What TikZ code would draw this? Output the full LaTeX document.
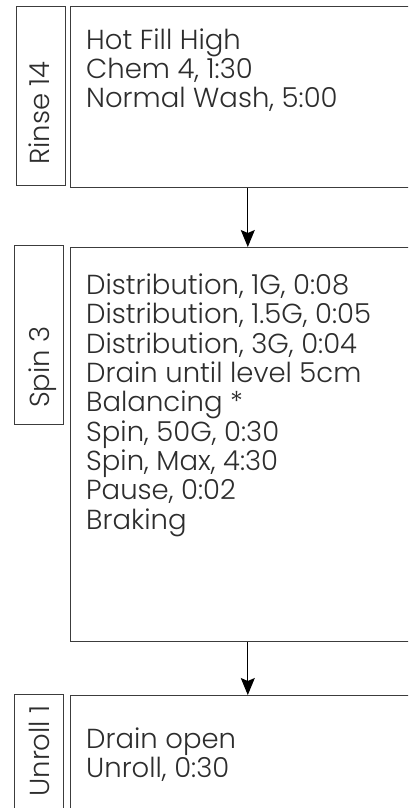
\documentclass[tikz,border=0pt]{standalone}
\usepackage{fontspec}
\setmainfont{Poppins}[UprightFont=* Light]
\usepackage{tikz}
\usetikzlibrary{arrows.meta,positioning,calc}
\definecolor{inkgray}{RGB}{45,45,45}
\definecolor{framegray}{RGB}{60,60,60}

\begin{document}
\begin{tikzpicture}[x=1pt, y=-1pt, >={Stealth[length=17pt,width=14pt,inset=3pt]}]
  \tikzset{lblbox/.style={draw=framegray, line width=1pt, minimum width=49pt, anchor=north west, inner sep=0pt},
    stepbox/.style={draw=framegray, line width=1pt, minimum width=354.6pt, anchor=north west, inner sep=0pt},
    lbltext/.style={rotate=90, inner sep=0pt, text=inkgray, font=\fontsize{27.5}{27.5}\selectfont},
    steptext/.style={anchor=base west, align=left, inner sep=0pt, text=inkgray, font=\fontsize{27.5}{29.3}\selectfont},
    flow/.style={->, draw=black, line width=1pt}}
  \clip (0,0) rectangle (408,808);
  % rinse (list placed by its last baseline)
  \node[lblbox, minimum height=179pt] (rinselbl) at (16,6) {};
  \node[lbltext, anchor=base west] (rinsename) at (49,165) {Rinse 14};
  \node[stepbox, minimum height=181pt] (rinse) at (70,6) {};
  \node[steptext] (rinselist) at (86,107.9) {Hot Fill High\\Chem 4, 1:30\\Normal Wash, 5:00};
  % spin
  \node[lblbox, minimum height=179pt] (spinlbl) at (14,245) {};
  \node[lbltext, anchor=base west] (spinname) at (49,408) {Spin 3};
  \node[stepbox, minimum height=394pt] (spin) at (70,247) {};
  \node[steptext] (spinlist) at (86,529) {Distribution, 1G, 0:08\\Distribution, 1.5G, 0:05\\Distribution, 3G, 0:04\\Drain until level 5cm\\Balancing *\\Spin, 50G, 0:30\\Spin, Max, 4:30\\Pause, 0:02\\Braking};
  % unroll
  \node[lblbox, minimum height=160pt] (unrolllbl) at (14,694) {};
  \node[lbltext, anchor=base east] (unrollname) at (49,705) {Unroll 1};
  \node[stepbox, minimum height=160pt] (unroll) at (70,695) {};
  \node[steptext] (unrolllist) at (86,777.3) {Drain open\\Unroll, 0:30};
  \draw[flow] (rinse.south) -- (spin.north);
  \draw[flow] (spin.south) -- (unroll.north);
\end{tikzpicture}
\end{document}
